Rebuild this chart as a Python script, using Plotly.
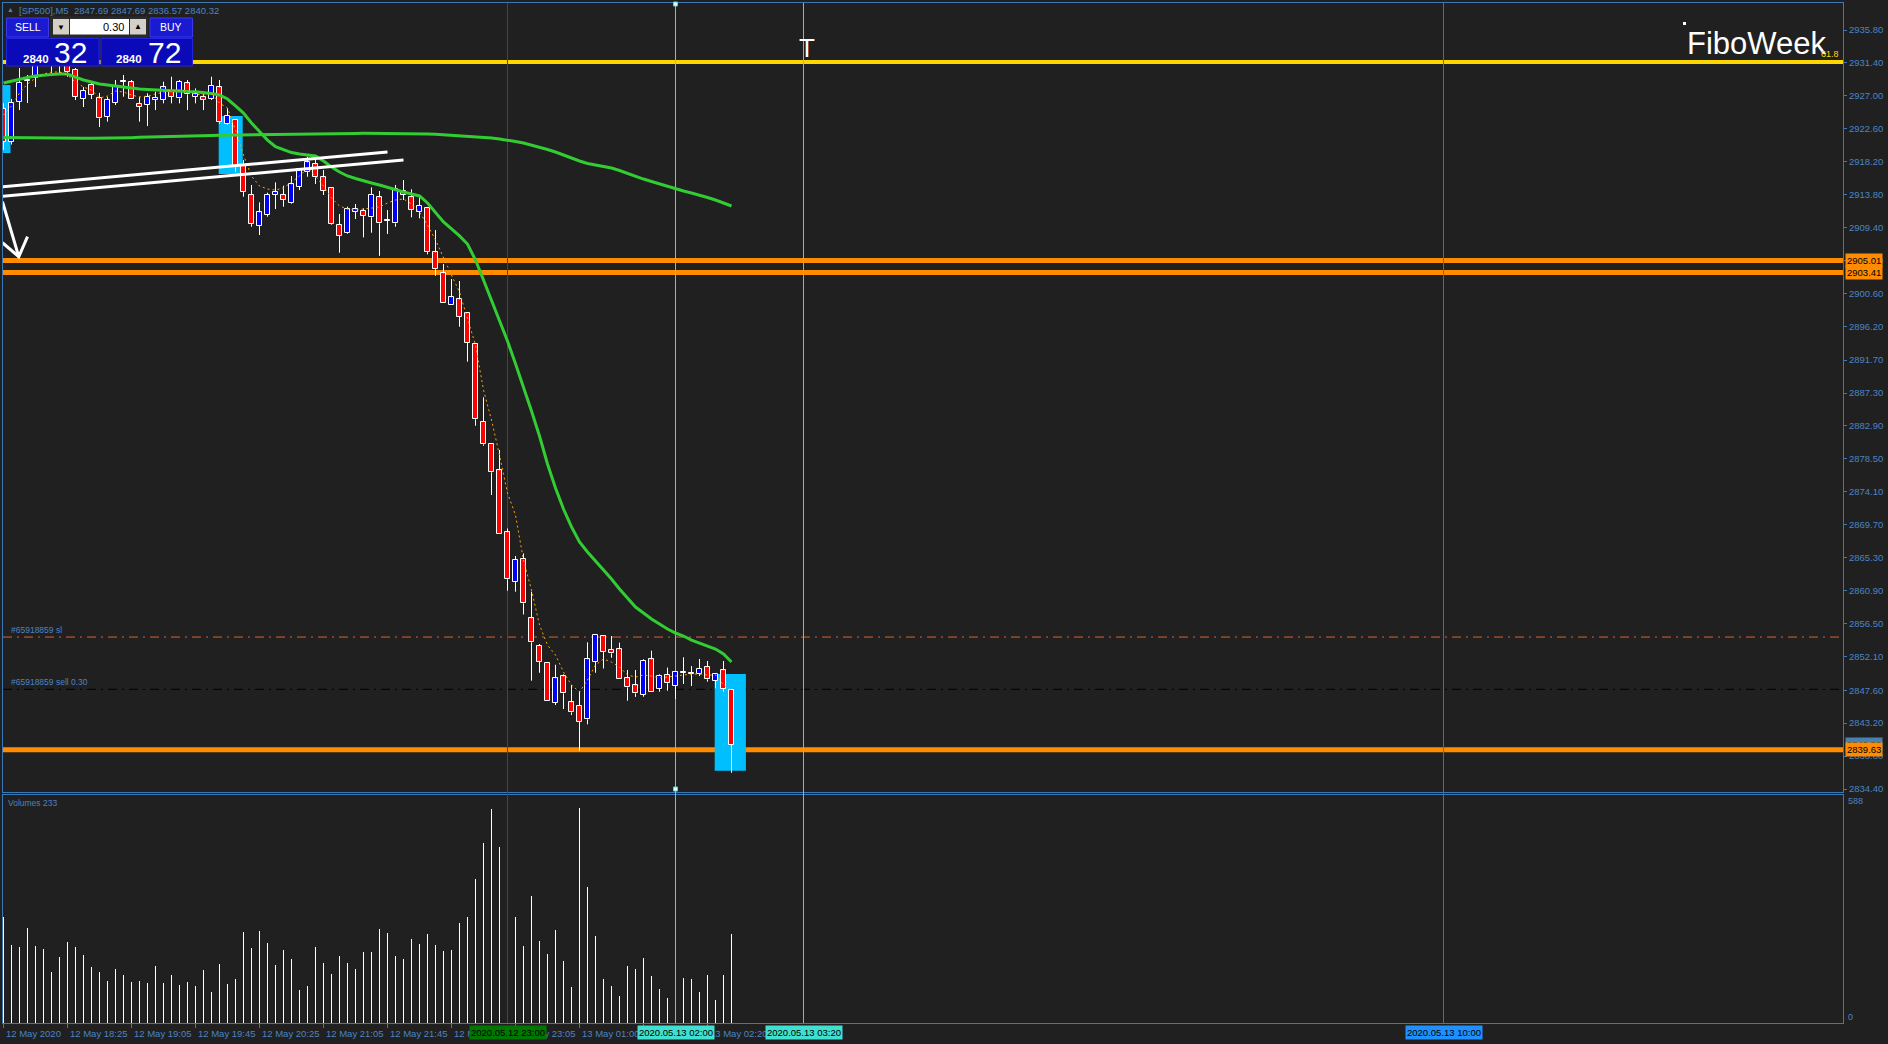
import plotly.graph_objects as go

W, H = 1888, 1044
ML, MR, MT, MB = 3, 45, 3, 21
PW = W - ML - MR
PH = H - MT - MB


def px(x):
    return (x - ML) / PW


def py(y):
    return (H - MB - y) / PH


# ---------------- data (5-minute bars, index 0 = 12 May 17:45) ----------------
open_ = [2925.25, 2920.84, 2926.18, 2928.99, 2929.39, 2931.4, 2933.0, 2931.5, 2932.2, 2930.46,
         2926.62, 2928.45, 2926.67, 2924.22, 2926.09, 2928.9, 2928.81, 2925.91, 2925.78, 2926.45,
         2926.45, 2927.56, 2926.67, 2928.68, 2926.89, 2926.89, 2926.58, 2928.14, 2923.2, 2923.78,
         2917.67, 2913.76, 2909.65, 2911.08, 2913.76, 2913.76, 2912.64, 2914.87, 2916.87, 2917.86,
         2916.12, 2914.65, 2909.75, 2908.64, 2911.53, 2911.62, 2910.78, 2913.45, 2910.3, 2909.97,
         2914.33, 2913.45, 2911.53, 2911.97, 2906.1, 2903.3, 2899.0, 2899.82, 2898.03, 2893.81,
         2883.47, 2880.45, 2876.98, 2868.69, 2862.1, 2865.13, 2857.2, 2853.5, 2851.19, 2845.93,
         2849.45, 2845.98, 2845.49, 2843.7, 2851.4, 2854.8, 2852.97, 2853.06, 2849.19, 2848.25,
         2846.96, 2851.73, 2847.76, 2849.63, 2848.2, 2849.9, 2849.72, 2849.74, 2850.74, 2848.83,
         2850.26, 2847.69]
high = [2926.0, 2926.6, 2930.72, 2929.79, 2931.6, 2933.3, 2933.6, 2933.3, 2932.8, 2930.72,
        2928.18, 2928.85, 2927.4, 2926.89, 2929.12, 2929.79, 2929.12, 2926.89, 2927.34, 2927.56,
        2928.9, 2929.56, 2929.12, 2929.12, 2928.0, 2927.56, 2929.56, 2929.12, 2925.34, 2923.78,
        2918.43, 2915.1, 2912.78, 2914.07, 2915.45, 2915.0, 2916.3, 2917.32, 2918.87, 2918.87,
        2917.1, 2914.73, 2911.22, 2912.2, 2912.55, 2911.97, 2914.77, 2914.29, 2911.75, 2915.1,
        2915.76, 2914.52, 2913.76, 2912.0, 2909.08, 2904.54, 2902.53, 2902.27, 2898.03, 2893.81,
        2886.73, 2880.45, 2879.69, 2869.2, 2865.53, 2865.87, 2860.76, 2853.77, 2851.19, 2851.0,
        2849.72, 2848.29, 2847.49, 2854.0, 2854.93, 2854.93, 2854.84, 2853.95, 2850.3, 2850.3,
        2851.73, 2852.88, 2849.72, 2850.62, 2850.03, 2852.0, 2850.83, 2851.77, 2851.5, 2849.72,
        2851.5, 2847.69]
low = [2919.8, 2920.5, 2925.11, 2926.05, 2928.18, 2931.1, 2929.8, 2929.8, 2929.56, 2926.45,
       2925.51, 2926.58, 2922.84, 2923.55, 2925.78, 2926.89, 2926.54, 2923.55, 2922.97, 2925.11,
       2926.0, 2926.0, 2926.0, 2925.11, 2926.0, 2925.11, 2926.45, 2923.24, 2923.1, 2916.87,
       2913.53, 2909.52, 2908.41, 2910.86, 2911.88, 2912.19, 2912.55, 2914.42, 2916.2, 2915.23,
       2913.76, 2909.75, 2906.05, 2908.55, 2910.55, 2908.1, 2908.72, 2905.63, 2908.55, 2909.52,
       2913.09, 2910.78, 2910.64, 2905.83, 2902.97, 2899.29, 2899.0, 2896.16, 2891.49, 2882.93,
       2880.26, 2873.68, 2868.42, 2860.89, 2860.76, 2857.72, 2848.87, 2849.93, 2846.2, 2845.62,
       2845.09, 2844.28, 2839.52, 2843.04, 2849.93, 2850.5, 2851.94, 2849.05, 2846.2, 2846.71,
       2846.73, 2847.4, 2847.4, 2847.54, 2846.42, 2848.43, 2848.16, 2849.5, 2848.74, 2847.85,
       2847.4, 2836.57]
close = [2920.84, 2926.05, 2928.72, 2928.99, 2931.3, 2932.6, 2931.8, 2932.6, 2930.23, 2926.85,
         2927.69, 2927.12, 2924.0, 2926.45, 2928.36, 2928.9, 2926.54, 2925.56, 2926.89, 2926.76,
         2928.14, 2926.89, 2928.9, 2927.21, 2927.21, 2926.45, 2928.36, 2923.47, 2924.31, 2917.46,
         2914.2, 2909.88, 2911.44, 2913.76, 2914.12, 2913.09, 2915.19, 2917.19, 2918.12, 2916.12,
         2914.33, 2909.84, 2908.32, 2911.85, 2911.85, 2911.0, 2913.76, 2909.97, 2910.3, 2914.52,
         2913.76, 2911.75, 2912.29, 2906.18, 2903.83, 2899.29, 2900.09, 2897.49, 2894.03, 2883.79,
         2880.45, 2876.71, 2868.42, 2862.41, 2865.0, 2859.2, 2854.0, 2851.4, 2846.2, 2849.19,
         2847.18, 2844.64, 2843.39, 2851.73, 2854.93, 2852.74, 2852.52, 2849.05, 2847.98, 2847.18,
         2851.5, 2847.4, 2849.5, 2848.52, 2850.03, 2849.9, 2849.72, 2850.5, 2849.05, 2849.72,
         2847.72, 2840.32]
volume = [279, 205, 200, 249, 202, 194, 134, 173, 213, 200,
          179, 147, 134, 110, 142, 126, 108, 110, 105, 150,
          105, 126, 100, 108, 97, 139, 81, 155, 102, 116,
          239, 197, 242, 210, 152, 192, 168, 87, 97, 200,
          158, 129, 176, 158, 142, 186, 186, 247, 236, 176,
          168, 221, 207, 234, 205, 189, 192, 263, 278, 378,
          473, 564, 462, 330, 278, 202, 333, 215, 181, 244,
          163, 95, 567, 357, 228, 116, 97, 71, 150, 142,
          171, 123, 89, 66, 150, 118, 116, 81, 126, 60,
          126, 234]
ma_fast = [2928.72, 2928.99, 2929.25, 2929.45, 2929.65, 2929.79, 2929.85, 2929.92, 2929.92, 2929.52,
           2929.12, 2928.85, 2928.59, 2928.45, 2928.32, 2928.12, 2928.01, 2927.92, 2927.85, 2927.78,
           2927.69, 2927.65, 2927.62, 2927.58, 2927.56, 2927.45, 2927.32, 2927.12, 2926.58, 2925.65,
           2924.71, 2923.38, 2922.17, 2921.1, 2920.21, 2919.77, 2919.43, 2919.23, 2919.1, 2918.97,
           2918.3, 2917.5, 2916.83, 2916.3, 2915.96, 2915.63, 2915.36, 2915.09, 2914.76, 2914.43,
           2914.16, 2913.9, 2913.63, 2912.7, 2911.49, 2910.16, 2909.22, 2908.29, 2907.21, 2905.07,
           2902.4, 2899.73, 2897.06, 2894.25, 2891.2, 2888.1, 2884.9, 2881.56, 2877.82, 2874.62,
           2871.81, 2869.41, 2867.4, 2866.06, 2864.86, 2863.79, 2862.45, 2861.12, 2859.92, 2858.71,
           2857.91, 2857.11, 2856.44, 2855.77, 2855.24, 2854.84, 2854.3, 2853.9, 2853.5, 2853.1,
           2852.43, 2851.36]
ma_slow = [2921.44, 2921.44, 2921.42, 2921.41, 2921.40, 2921.38, 2921.37, 2921.37, 2921.37, 2921.37,
           2921.34, 2921.33, 2921.33, 2921.33, 2921.34, 2921.37, 2921.42, 2921.46, 2921.50, 2921.53,
           2921.56, 2921.59, 2921.61, 2921.64, 2921.67, 2921.69, 2921.72, 2921.75, 2921.77, 2921.79,
           2921.80, 2921.81, 2921.83, 2921.84, 2921.85, 2921.87, 2921.88, 2921.89, 2921.91, 2921.92,
           2921.93, 2921.95, 2921.96, 2921.97, 2921.99, 2922.00, 2922.00, 2922.00, 2922.00, 2921.99,
           2921.97, 2921.97, 2921.95, 2921.91, 2921.87, 2921.81, 2921.76, 2921.71, 2921.64, 2921.57,
           2921.48, 2921.37, 2921.24, 2921.10, 2920.90, 2920.70, 2920.44, 2920.17, 2919.83, 2919.50,
           2919.10, 2918.63, 2918.30, 2917.96, 2917.76, 2917.56, 2917.36, 2917.03, 2916.63, 2916.23,
           2915.89, 2915.56, 2915.23, 2914.89, 2914.56, 2914.29, 2914.02, 2913.76, 2913.42, 2913.09,
           2912.69, 2912.29]
ma_dot = [2924.44, 2925.65, 2927.38, 2928.59, 2929.39, 2929.92, 2930.19, 2930.19, 2929.79, 2928.85,
          2928.18, 2927.78, 2926.72, 2926.98, 2927.65, 2927.52, 2927.12, 2926.85, 2926.98, 2927.25,
          2927.52, 2927.78, 2927.78, 2927.65, 2927.25, 2927.12, 2927.38, 2926.05, 2925.38, 2922.44,
          2919.1, 2916.29, 2914.96, 2914.56, 2914.42, 2914.69, 2915.49, 2916.29, 2917.36, 2916.29,
          2914.96, 2913.36, 2912.29, 2911.89, 2911.75, 2911.89, 2912.02, 2912.15, 2912.69, 2913.09,
          2913.22, 2912.55, 2911.48, 2909.75, 2907.74, 2905.34, 2903.07, 2900.8, 2897.32, 2893.72,
          2887.7, 2883.7, 2879.02, 2873.94, 2871.0, 2864.99, 2860.98, 2856.31, 2853.64, 2852.3,
          2850.03, 2848.29, 2847.36, 2848.96, 2850.96, 2851.77, 2851.36, 2850.7, 2849.63, 2849.36,
          2849.63, 2849.49, 2849.23, 2849.36, 2849.49, 2849.63, 2849.76, 2849.76, 2849.63, 2849.63,
          2848.29, 2847.62]

time_tick_bars = [0, 8, 16, 24, 32, 40, 48, 56, 64, 72, 80, 88]
time_tick_labels = ["12 May 2020", "12 May 18:25", "12 May 19:05", "12 May 19:45", "12 May 20:25",
                    "12 May 21:05", "12 May 21:45", "12 May 22:25", "12 May 23:05", "13 May 01:00",
                    "13 May 01:40", "13 May 02:20"]
price_ticks = [2935.8, 2931.4, 2927.0, 2922.6, 2918.2, 2913.8, 2909.4, 2905.0, 2900.6, 2896.2,
               2891.7, 2887.3, 2882.9, 2878.5, 2874.1, 2869.7, 2865.3, 2860.9, 2856.5, 2852.1,
               2847.6, 2843.2, 2838.8, 2834.4]
price_tick_labels = ["2935.80", "2931.40", "2927.00", "2922.60", "2918.20", "2913.80", "2909.40",
                     "2905.00", "2900.60", "2896.20", "2891.70", "2887.30", "2882.90", "2878.50",
                     "2874.10", "2869.70", "2865.30", "2860.90", "2856.50", "2852.10", "2847.60",
                     "2843.20", "2838.80", "2834.40"]

fibo_level = 2931.52
support_levels = [2905.01, 2903.41, 2839.63]
support_labels = ["2905.01", "2903.41", "2839.63"]
bid_price = 2840.32
sl_price = 2854.70
entry_price = 2847.72

vline_bars = [63, 84, 100, 180]
vline_labels = ["2020.05.12 23:00", "2020.05.13 02:00", "2020.05.13 03:20", "2020.05.13 10:00"]

# highlight boxes: (bar from, bar to, price low, price high)
highlight_boxes = [(-0.125, 0.875, 2919.37, 2928.45),
                   (26.9, 29.9, 2916.56, 2924.31),
                   (88.9, 92.8, 2836.84, 2849.76)]
# channel lines: (bar0, price0, bar1, price1)
channel_lines = [(-0.125, 2914.87, 48.0, 2919.50),
                 (-0.125, 2913.60, 50.0, 2918.43)]
arrow_bars = [-0.125, 1.91, None, -0.125, 1.91, 3.0]
arrow_prices = [2912.86, 2905.51, None, 2907.38, 2905.51, 2908.19]

# ---------------- styling ----------------
BG = "#202020"
AX = "#3b78b8"
TXT = "#4a84c4"
FONT = "Liberation Sans"

n = len(close)
idx = list(range(n))

fig = go.Figure()

# wicks (drawn outside bodies so that they never stripe the body)
wx, wy = [], []
for i in idx:
    top = max(open_[i], close[i])
    bot = min(open_[i], close[i])
    if high[i] > top:
        wx += [i, i, None]
        wy += [top, high[i], None]
    if low[i] < bot:
        wx += [i, i, None]
        wy += [low[i], bot, None]
fig.add_trace(go.Scatter(x=wx, y=wy, mode="lines", line=dict(color="white", width=1),
                         hoverinfo="skip", showlegend=False, xaxis="x", yaxis="y"))

body_base = [min(o, c) for o, c in zip(open_, close)]
body_h = [max(abs(c - o), 0.14) for o, c in zip(open_, close)]
body_col = ["#0000FF" if c > o else ("#FF0000" if c < o else "#FFFFFF") for o, c in zip(open_, close)]
fig.add_trace(go.Bar(x=idx, y=body_h, base=body_base, width=0.56,
                     marker=dict(color=body_col, line=dict(color="white", width=1)),
                     showlegend=False, hoverinfo="skip", xaxis="x", yaxis="y"))

# moving averages
fig.add_trace(go.Scatter(x=idx, y=ma_slow, mode="lines", line=dict(color="#32CD32", width=3),
                         showlegend=False, hoverinfo="skip", xaxis="x", yaxis="y"))
fig.add_trace(go.Scatter(x=idx, y=ma_fast, mode="lines", line=dict(color="#32CD32", width=3),
                         showlegend=False, hoverinfo="skip", xaxis="x", yaxis="y"))
fig.add_trace(go.Scatter(x=idx, y=ma_dot, mode="lines", line=dict(color="#FFA500", width=1, dash="2px,3px"),
                         showlegend=False, hoverinfo="skip", xaxis="x", yaxis="y"))

# channel + arrow
for b0, p0, b1, p1 in channel_lines:
    fig.add_trace(go.Scatter(x=[b0, b1], y=[p0, p1], mode="lines", line=dict(color="white", width=3),
                             showlegend=False, hoverinfo="skip", xaxis="x", yaxis="y"))
fig.add_trace(go.Scatter(x=arrow_bars, y=arrow_prices, mode="lines", line=dict(color="white", width=3),
                         showlegend=False, hoverinfo="skip", xaxis="x", yaxis="y"))

# volumes
fig.add_trace(go.Bar(x=idx, y=volume, width=0.125, marker=dict(color="white", line=dict(width=0)),
                     showlegend=False, hoverinfo="skip", xaxis="x2", yaxis="y2"))

shapes = []
# highlight boxes
for b0, b1, p0, p1 in highlight_boxes:
    shapes.append(dict(type="rect", xref="x", yref="y", x0=b0, x1=b1, y0=p0, y1=p1,
                       fillcolor="#00BFFF", line=dict(width=0), layer="below"))
# horizontal levels
shapes.append(dict(type="line", xref="paper", yref="y", x0=0, x1=1, y0=fibo_level, y1=fibo_level,
                   line=dict(color="#FFD700", width=4), layer="below"))
for lv in support_levels:
    shapes.append(dict(type="line", xref="paper", yref="y", x0=0, x1=1, y0=lv, y1=lv,
                       line=dict(color="#FF8C00", width=5), layer="below"))
shapes.append(dict(type="line", xref="paper", yref="y", x0=0, x1=0.9985, y0=sl_price, y1=sl_price,
                   line=dict(color="#E0602A", width=1, dash="9px,5px,2px,5px"), layer="below"))
shapes.append(dict(type="line", xref="paper", yref="y", x0=0, x1=0.9985, y0=entry_price, y1=entry_price,
                   line=dict(color="#000000", width=1, dash="9px,5px,2px,5px"), layer="below"))
# vertical lines
vcols = ["#0B6E0B", "#40E0D0", "#4CCFDB", "#1E78D0"]
for b, c in zip(vline_bars, vcols):
    shapes.append(dict(type="line", xref="x", yref="y domain", x0=b, x1=b, y0=0, y1=1,
                       line=dict(color=c, width=1), layer="below"))
    shapes.append(dict(type="line", xref="x", yref="paper", x0=b, x1=b, y0=py(795), y1=py(792),
                       line=dict(color=c, width=1), layer="above"))
    shapes.append(dict(type="line", xref="x2", yref="y2 domain", x0=b, x1=b, y0=0, y1=1,
                       line=dict(color=c, width=1), layer="above"))
# selection markers on the 02:00 line
for yy in (4, 789):
    shapes.append(dict(type="rect", xref="x", yref="paper", x0=83.75, x1=84.25, y0=py(yy + 2), y1=py(yy - 2),
                       fillcolor="#E8FFFF", line=dict(color="#40E0D0", width=1), layer="above"))
# FiboWeek dot
shapes.append(dict(type="rect", xref="paper", yref="paper", x0=px(1683), x1=px(1686), y0=py(25), y1=py(22),
                   fillcolor="white", line=dict(width=0)))


# trade panel (top-left)
def box(x0, y0, x1, y1, fill, line_col=None, lw=0):
    shapes.append(dict(type="rect", xref="paper", yref="paper", x0=px(x0), x1=px(x1), y0=py(y1), y1=py(y0),
                       fillcolor=fill, line=dict(color=line_col or fill, width=lw), layer="above"))


box(50, 16.5, 148, 38, "#2a2a2a")
box(6.5, 18, 48.5, 37, "#1a1ad0", "#3a3ae8", 1)
box(150, 18, 192.5, 37, "#1a1ad0", "#3a3ae8", 1)
box(53, 19, 69, 34.5, "#d4d0c8")
box(70, 19, 129, 34.5, "#ffffff")
box(130, 19, 146, 34.5, "#d4d0c8")
box(6.5, 38.5, 99, 66, "#0a0ab8", "#2424d8", 1)
box(101, 38.5, 192.5, 66, "#0a0ab8", "#2424d8", 1)

ann = []


def A(text, x, y, size=9.5, color=TXT, xanchor="left", yanchor="middle", xref="paper", yref="paper", **kw):
    ann.append(dict(text=text, x=x, y=y, xref=xref, yref=yref, xanchor=xanchor, yanchor=yanchor,
                    showarrow=False, font=dict(family=FONT, size=size, color=color), **kw))


# header
A("▲", px(5), py(10), size=7, color=TXT)
A("[SP500],M5\u00a0\u00a02847.69\u00a02847.69\u00a02836.57\u00a02840.32", px(17), py(10.5), size=9.5)
A("SELL", px(27.5), py(27), size=10.5, color="white", xanchor="center")
A("BUY", px(171), py(27), size=10.5, color="white", xanchor="center")
A("▼", px(61), py(27), size=8, color="black", xanchor="center")
A("▲", px(138), py(26.5), size=8, color="black", xanchor="center")
A("0.30", px(126), py(27), size=11, color="black", xanchor="right")
A("<b>2840</b>", px(21), py(59), size=11.5, color="white")
A("32", px(52), py(52), size=30, color="white")
A("<b>2840</b>", px(114), py(59), size=11.5, color="white")
A("72", px(146), py(52), size=30, color="white")

# FiboWeek / 61.8 / T
A("FiboWeek", px(1828), py(44), size=31, color="white", xanchor="right")
A("61.8", px(1841), fibo_level, size=9, color="#FFD700", xanchor="right", yanchor="bottom", yref="y", yshift=1)
A("T", px(807), py(48), size=26, color="white", xanchor="center")

# order labels
A("#65918859 sl", px(9), sl_price, size=8.5, yanchor="bottom", yref="y", yshift=0)
A("#65918859 sell 0.30", px(9), entry_price, size=8.5, yanchor="bottom", yref="y", yshift=0)
A("Volumes 233", px(6), py(803), size=8.5)
A("588", px(1846), py(801), size=9)
A("0", px(1846), py(1017), size=9)

# time labels
for b, t in zip(time_tick_bars, time_tick_labels):
    A(t, b, py(1033), size=9.5, xref="x")

# price level boxes on the right axis
A(f"{bid_price:.2f}", px(1845), bid_price, size=9.5, color="black", yref="y", bgcolor="#4682B4", borderpad=1)
for lv, t in zip(support_levels, support_labels):
    A(t, px(1845), lv, size=9.5, color="black", yref="y", bgcolor="#FF8C00", borderpad=1)

# vertical line date boxes
box_cols = ["#007800", "#40E0D0", "#40E0D0", "#1E90FF"]
for b, t, c in zip(vline_bars, vline_labels, box_cols):
    A(t, b, py(1032), size=9.5, color="black", xanchor="center", xref="x", bgcolor=c, borderpad=1)

fig.update_layout(
    width=W, height=H, autosize=False,
    margin=dict(l=ML, r=MR, t=MT, b=MB, pad=0),
    paper_bgcolor=BG, plot_bgcolor=BG,
    bargap=0, barmode="overlay",
    font=dict(family=FONT, size=9.5, color=TXT),
    xaxis=dict(domain=[0, 1], anchor="y", range=[-0.0625, 229.9375], showgrid=False, zeroline=False,
               showticklabels=False, ticks="", showline=True, mirror=True, linecolor=AX, linewidth=1),
    xaxis2=dict(domain=[0, 1], anchor="y2", matches="x", range=[-0.0625, 229.9375], showgrid=False,
                zeroline=False, showticklabels=False, ticks="outside", ticklen=4, tickcolor=AX,
                tickmode="array", tickvals=time_tick_bars, showline=True, mirror=True,
                linecolor=AX, linewidth=1),
    yaxis=dict(domain=[py(792), 1], anchor="x", side="right", range=[2834.0, 2939.41], showgrid=False,
               zeroline=False, tickmode="array", tickvals=price_ticks, ticktext=price_tick_labels,
               ticks="outside", ticklen=3, tickcolor=AX, tickfont=dict(family=FONT, size=9.5, color=TXT),
               showline=True, mirror=True, linecolor=AX, linewidth=1),
    yaxis2=dict(domain=[0, py(795)], anchor="x2", side="right", range=[0, 600], showgrid=False,
                zeroline=False, showticklabels=False, ticks="", showline=True, mirror=True,
                linecolor=AX, linewidth=1),
    shapes=shapes,
    annotations=ann,
    showlegend=False,
    hovermode=False,
)

fig.write_html("out.html", config={"displayModeBar": False},
               post_script="document.body.style.margin='0';document.body.style.overflow='hidden';")
